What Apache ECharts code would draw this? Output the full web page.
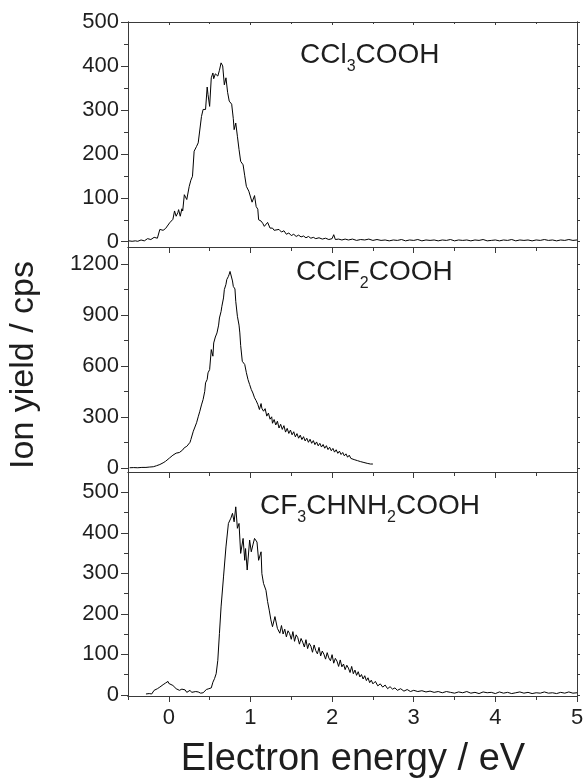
<!DOCTYPE html>
<html>
<head>
<meta charset="utf-8">
<script src="https://cdn.jsdelivr.net/npm/echarts@6/dist/echarts.min.js"></script>
<style>
  html, body { margin: 0; padding: 0; background: #fff; }
  #chart { width: 584px; height: 778px; }
</style>
</head>
<body>
<div id="chart"></div>
<script>
// Negative-ion yield versus electron energy for three halogenated acids.
// Each series is a list of [energy (eV), ion yield (cps)] pairs.

const ccl3cooh = [
  [-0.49,2],[-0.45,1],[-0.41,2],[-0.38,1],[-0.34,4],[-0.30,2],[-0.26,7],[-0.22,5],[-0.18,10],[-0.14,8],
  [-0.11,28],[-0.07,26],[-0.04,30],[-0.02,34],[0.01,43],[0.03,47],[0.05,51],[0.07,70],[0.09,58],[0.11,66],
  [0.12,73],[0.14,58],[0.16,75],[0.17,70],[0.19,107],[0.22,96],[0.25,126],[0.27,140],[0.29,149],[0.31,206],
  [0.34,217],[0.36,225],[0.37,222],[0.40,285],[0.42,301],[0.45,301],[0.47,352],[0.48,335],[0.50,308],[0.52,373],
  [0.54,384],[0.55,371],[0.57,382],[0.60,377],[0.62,390],[0.64,407],[0.66,400],[0.68,357],[0.70,373],[0.72,340],
  [0.74,320],[0.77,313],[0.79,280],[0.80,255],[0.82,270],[0.84,240],[0.86,210],[0.88,183],[0.91,175],[0.93,150],
  [0.95,126],[0.98,115],[1.00,118],[1.02,90],[1.05,105],[1.07,80],[1.09,74],[1.10,50],[1.13,47],[1.15,42],
  [1.17,35],[1.21,44],[1.24,31],[1.27,31],[1.29,26],[1.31,24],[1.35,28],[1.38,22],[1.41,25],[1.44,17],
  [1.47,20],[1.50,14],[1.53,17],[1.56,12],[1.59,15],[1.62,11],[1.65,13],[1.68,9],[1.71,12],[1.74,8],
  [1.77,10],[1.80,7],[1.84,9],[1.88,6],[1.92,8],[1.96,5],[2.00,7],[2.02,16],[2.04,5],[2.08,6],
  [2.12,4],[2.16,6],[2.20,4],[2.25,6],[2.30,3],[2.35,5],[2.40,4],[2.45,6],[2.50,3],[2.55,5],
  [2.60,3],[2.65,4],[2.70,2],[2.75,4],[2.80,3],[2.85,5],[2.90,2],[2.95,4],[3.00,3],[3.05,5],
  [3.10,2],[3.15,4],[3.20,3],[3.25,4],[3.30,2],[3.35,4],[3.40,3],[3.45,5],[3.50,2],[3.55,4],
  [3.60,3],[3.65,4],[3.70,2],[3.75,4],[3.80,3],[3.85,5],[3.90,2],[3.95,3],[4.00,4],[4.05,2],
  [4.10,4],[4.15,3],[4.20,5],[4.25,2],[4.30,4],[4.35,3],[4.40,4],[4.45,2],[4.50,4],[4.55,3],
  [4.60,5],[4.65,3],[4.70,4],[4.75,2],[4.80,4],[4.85,3],[4.90,5],[4.95,3],[5.00,4]
];

const cclf2cooh = [
  [-0.48,0],[-0.43,1],[-0.38,0],[-0.33,2],[-0.28,2],[-0.24,4],[-0.19,6],[-0.15,12],[-0.11,19],[-0.07,29],
  [-0.04,38],[-0.02,49],[0.01,58],[0.03,68],[0.05,74],[0.07,82],[0.09,86],[0.11,92],[0.13,90],[0.15,98],
  [0.17,105],[0.19,118],[0.22,126],[0.24,137],[0.26,150],[0.27,166],[0.30,215],[0.32,240],[0.34,265],[0.36,300],
  [0.38,333],[0.40,370],[0.42,402],[0.44,450],[0.45,500],[0.47,520],[0.48,559],[0.50,578],[0.52,696],[0.54,657],
  [0.55,735],[0.57,770],[0.59,794],[0.61,840],[0.62,882],[0.64,920],[0.65,951],[0.67,1000],[0.68,1049],[0.70,1080],
  [0.71,1108],[0.73,1127],[0.74,1140],[0.75,1156],[0.76,1150],[0.77,1147],[0.78,1100],[0.79,1068],[0.81,1053],[0.82,980],
  [0.84,892],[0.86,840],[0.87,794],[0.88,720],[0.90,627],[0.93,608],[0.95,560],[0.97,519],[0.99,490],[1.01,461],
  [1.03,440],[1.05,412],[1.07,395],[1.09,373],[1.11,343],[1.13,378],[1.14,350],[1.16,333],[1.18,348],[1.20,304],
  [1.22,322],[1.24,286],[1.26,300],[1.27,262],[1.29,284],[1.31,252],[1.33,274],[1.35,234],[1.37,256],[1.39,226],
  [1.41,248],[1.43,210],[1.45,232],[1.47,202],[1.49,222],[1.51,194],[1.53,212],[1.55,182],[1.57,201],[1.59,174],
  [1.61,192],[1.63,166],[1.65,183],[1.67,158],[1.69,174],[1.71,150],[1.73,168],[1.75,144],[1.77,160],[1.79,136],
  [1.81,152],[1.83,129],[1.85,144],[1.87,122],[1.89,137],[1.91,115],[1.93,130],[1.95,107],[1.97,121],[1.99,100],
  [2.01,114],[2.03,92],[2.05,106],[2.07,85],[2.09,98],[2.11,78],[2.13,90],[2.15,70],[2.17,82],[2.19,62],
  [2.21,74],[2.23,55],[2.25,65],[2.27,48],[2.29,58],[2.31,42],[2.33,51],[2.35,36],[2.37,44],[2.39,31],
  [2.41,38],[2.43,26],[2.45,33],[2.47,22],[2.49,27],[2.50,22]
];

const cf3chnh2cooh = [
  [-0.28,2],[-0.24,3],[-0.21,2],[-0.18,11],[-0.14,15],[-0.11,19],[-0.07,25],[-0.04,29],[-0.01,33],[0.00,28],
  [0.02,31],[0.05,23],[0.07,20],[0.09,15],[0.11,18],[0.13,11],[0.16,14],[0.18,10],[0.20,12],[0.22,6],
  [0.24,8],[0.26,11],[0.28,6],[0.30,3],[0.33,8],[0.36,7],[0.39,4],[0.42,5],[0.44,9],[0.46,13],
  [0.49,15],[0.52,17],[0.54,31],[0.56,40],[0.58,52],[0.60,85],[0.62,151],[0.64,217],[0.67,291],[0.70,365],
  [0.73,423],[0.76,436],[0.78,448],[0.80,427],[0.82,464],[0.84,411],[0.86,423],[0.88,349],[0.91,386],[0.93,332],
  [0.94,361],[0.96,308],[0.99,382],[1.01,353],[1.03,370],[1.05,386],[1.08,377],[1.10,332],[1.13,353],[1.14,299],
  [1.16,275],[1.19,258],[1.21,230],[1.23,209],[1.25,185],[1.27,168],[1.30,193],[1.33,164],[1.36,152],[1.38,171],
  [1.40,150],[1.42,162],[1.44,143],[1.46,158],[1.48,151],[1.50,137],[1.52,156],[1.54,132],[1.56,148],[1.58,141],
  [1.60,125],[1.62,139],[1.64,130],[1.66,118],[1.68,136],[1.70,114],[1.72,127],[1.74,120],[1.76,105],[1.78,123],
  [1.80,109],[1.82,101],[1.84,117],[1.86,96],[1.88,108],[1.90,100],[1.92,88],[1.94,104],[1.96,91],[1.98,84],
  [2.00,99],[2.02,78],[2.04,90],[2.06,83],[2.08,70],[2.10,86],[2.12,69],[2.14,76],[2.16,62],[2.18,73],
  [2.20,66],[2.22,55],[2.24,70],[2.26,52],[2.28,61],[2.30,48],[2.32,57],[2.34,44],[2.36,50],[2.38,39],
  [2.40,47],[2.42,35],[2.44,42],[2.46,30],[2.48,36],[2.50,27],[2.53,33],[2.56,22],[2.59,27],[2.62,19],
  [2.65,24],[2.68,15],[2.71,20],[2.74,14],[2.77,17],[2.80,11],[2.84,15],[2.88,9],[2.92,13],[2.96,8],
  [3.00,11],[3.05,8],[3.10,10],[3.15,7],[3.20,9],[3.25,6],[3.30,8],[3.35,5],[3.40,8],[3.45,6],
  [3.50,4],[3.55,7],[3.60,5],[3.65,8],[3.70,4],[3.75,6],[3.80,3],[3.85,7],[3.90,5],[3.95,6],
  [4.00,3],[4.05,7],[4.10,4],[4.15,6],[4.20,3],[4.25,5],[4.30,7],[4.35,4],[4.40,6],[4.45,3],
  [4.50,5],[4.55,4],[4.60,7],[4.65,4],[4.70,5],[4.75,3],[4.80,6],[4.85,4],[4.90,7],[4.95,4],[5.00,5]
];

// Tick positions
const energyTicks = [0, 1, 2, 3, 4, 5];
const energyMinorTicks = [-0.5, 0.5, 1.5, 2.5, 3.5, 4.5];
const yTicksTop = [0, 100, 200, 300, 400, 500];
const yMinorTop = [50, 150, 250, 350, 450];
const yTicksMid = [0, 300, 600, 900, 1200];
const yMinorMid = [150, 450, 750, 1050];
const yTicksBot = [0, 100, 200, 300, 400, 500];
const yMinorBot = [50, 150, 250, 350, 450];

const FONT = "'Liberation Sans', Arial, Helvetica, sans-serif";
const AXIS_COLOR = '#3a3a3a';
const TEXT_COLOR = '#1e1e1e';

const panels = [
  { top: 22,  height: 225, min: -12, max: 500,  major: yTicksTop, minor: yMinorTop, data: ccl3cooh },
  { top: 247, height: 225, min: -25, max: 1300, major: yTicksMid, minor: yMinorMid, data: cclf2cooh },
  { top: 472, height: 224, min: -3,  max: 550,  major: yTicksBot, minor: yMinorBot, data: cf3chnh2cooh }
];

function axis(gridIndex, position, min, max) {
  return {
    type: 'value', gridIndex, position, min, max,
    splitLine: { show: false },
    axisLine: { show: true, onZero: false, lineStyle: { color: AXIS_COLOR, width: 1 } },
    axisLabel: { show: false },
    axisTick: { show: false }
  };
}
function ticks(ax, values, length, inside) {
  ax.axisTick = { show: true, customValues: values, length, inside, lineStyle: { color: AXIS_COLOR, width: 1 } };
  return ax;
}
const plain = v => String(v);

const grids = [];
const xAxes = [];
const yAxes = [];
const series = [];

// data grids 0..2, tick overlay grids 3..5 (same rectangles)
panels.forEach(p => grids.push({ left: 128, right: 7, top: p.top, height: p.height, outerBoundsMode: 'none' }));
panels.forEach(p => grids.push({ left: 128, right: 7, top: p.top, height: p.height, outerBoundsMode: 'none' }));

panels.forEach((p, i) => {
  // bottom energy axis with major ticks
  const xb = ticks(axis(i, 'bottom', -0.5, 5), energyTicks, 6, false);
  if (i === 2) {
    xb.axisLabel = { show: true, customValues: energyTicks, formatter: plain, fontSize: 22, fontFamily: FONT, color: TEXT_COLOR, margin: 11 };
  }
  xAxes.push(xb);
  // left intensity axis with labelled major ticks
  const yl = ticks(axis(i, 'left', p.min, p.max), p.major, 7, false);
  yl.axisLabel = { show: true, customValues: p.major, formatter: plain, fontSize: 22, fontFamily: FONT, color: TEXT_COLOR, margin: 9 };
  yAxes.push(yl);
  series.push({
    type: 'line', xAxisIndex: i, yAxisIndex: i, data: p.data,
    showSymbol: false, symbol: 'none', silent: true,
    lineStyle: { color: '#000', width: 1 }
  });
});
panels.forEach((p, i) => {
  // right frame with short ticks
  yAxes.push(ticks(axis(i, 'right', p.min, p.max), p.major, 3, false));
});
panels.forEach((p, i) => {
  const g = i + 3;
  xAxes.push(ticks(axis(g, 'bottom', -0.5, 5), energyMinorTicks, 4, false));
  yAxes.push(ticks(axis(g, 'left', p.min, p.max), p.minor, 4, false));
  yAxes.push(ticks(axis(g, 'right', p.min, p.max), p.minor, 3, false));
});
// top frame of the first panel
xAxes.push(ticks(axis(0, 'top', -0.5, 5), energyTicks, 3, true));
xAxes.push(ticks(axis(3, 'top', -0.5, 5), energyMinorTicks, 2, true));

function formula(x, y, text) {
  return {
    type: 'text', x, y, silent: true,
    style: {
      text, fill: TEXT_COLOR, align: 'left', verticalAlign: 'top', textAlign: 'left', textVerticalAlign: 'top',
      rich: {
        a: { fontSize: 28, fontFamily: FONT, lineHeight: 30, fill: TEXT_COLOR },
        b: { fontSize: 16, fontFamily: FONT, lineHeight: 30, fill: TEXT_COLOR, padding: [24, 0, 0, 0] }
      }
    }
  };
}

const chart = echarts.init(document.getElementById('chart'), null, { renderer: 'canvas' });
chart.setOption({
  animation: false,
  backgroundColor: '#fff',
  grid: grids,
  xAxis: xAxes,
  yAxis: yAxes,
  series,
  graphic: [
    formula(300, 40, '{a|CCl}{b|3}{a|COOH}'),
    formula(296, 257, '{a|CClF}{b|2}{a|COOH}'),
    formula(260, 491, '{a|CF}{b|3}{a|CHNH}{b|2}{a|COOH}'),
    {
      type: 'text', x: 353, y: 760, silent: true,
      style: { text: 'Electron energy / eV', fill: TEXT_COLOR, font: '38px ' + FONT,
               align: 'center', verticalAlign: 'middle', textAlign: 'center', textVerticalAlign: 'middle' }
    },
    {
      type: 'text', x: 24, y: 365, rotation: Math.PI / 2, silent: true,
      style: { text: 'Ion yield / cps', fill: TEXT_COLOR, font: '34px ' + FONT,
               align: 'center', verticalAlign: 'middle', textAlign: 'center', textVerticalAlign: 'middle' }
    }
  ]
});
</script>
</body>
</html>
